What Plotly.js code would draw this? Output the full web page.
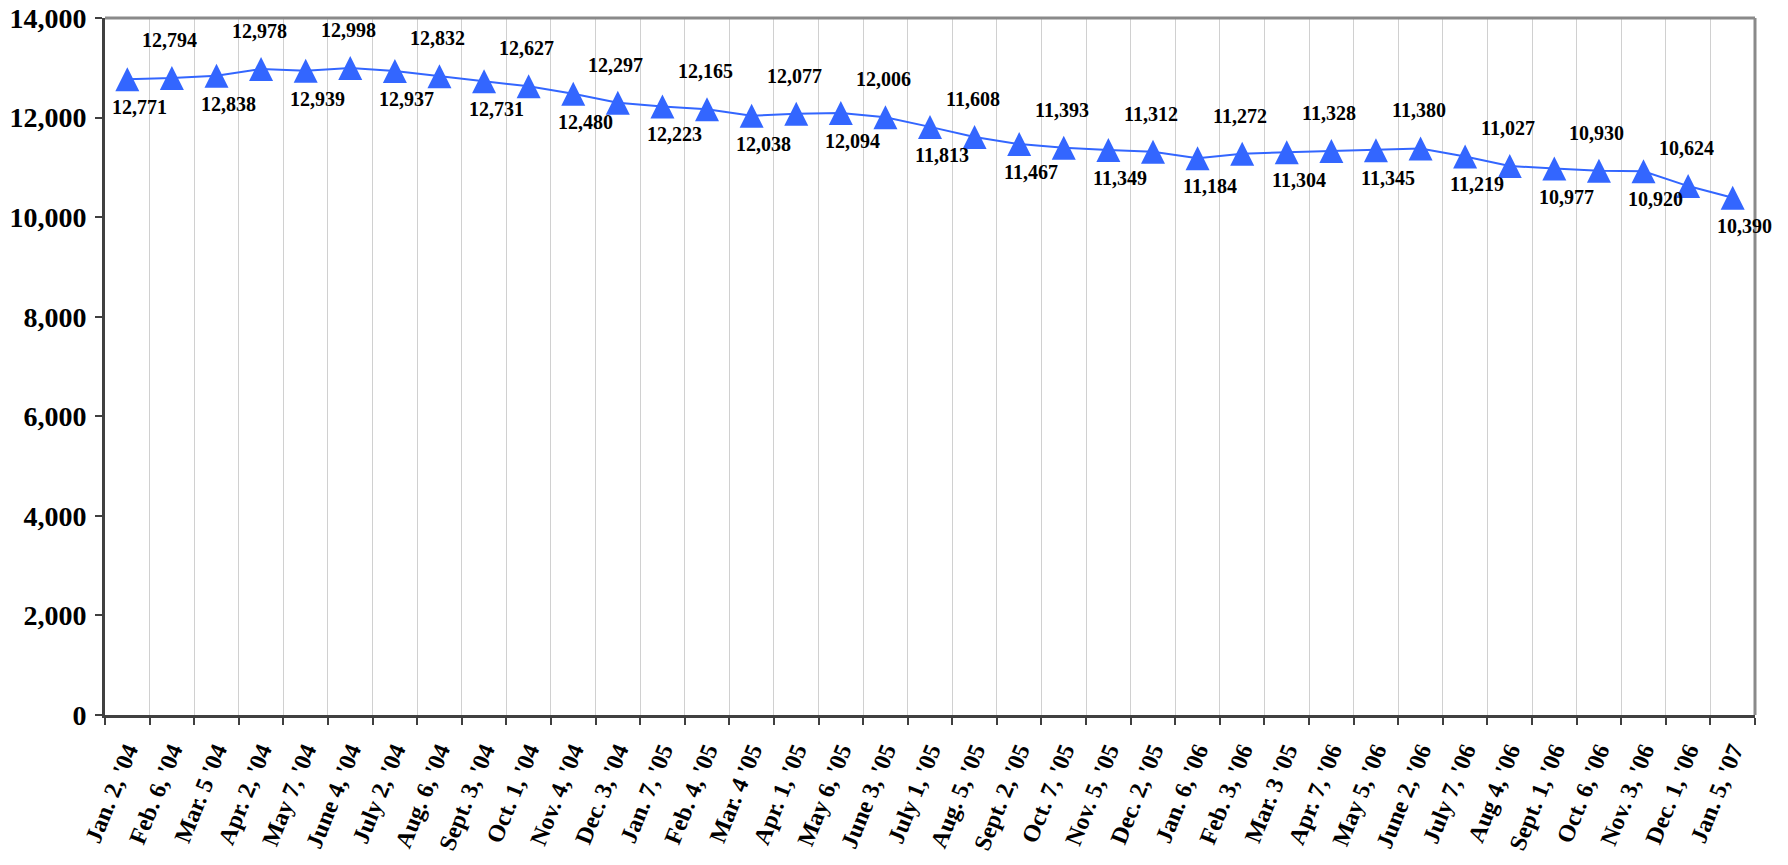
<!DOCTYPE html>
<html>
<head>
<meta charset="utf-8">
<script src="https://cdn.plot.ly/plotly-3.0.1.min.js"></script>
<style>
html,body{margin:0;padding:0;background:#fff;}
#chart{width:1788px;height:865px;}
</style>
</head>
<body>
<div id="chart"></div>
<script>
var categories = [
  "Jan. 2, '04","Feb. 6, '04","Mar. 5 '04","Apr. 2, '04","May 7, '04","June 4, '04",
  "July 2, '04","Aug. 6, '04","Sept. 3, '04","Oct. 1, '04","Nov. 4, '04","Dec. 3, '04",
  "Jan. 7, '05","Feb. 4, '05","Mar. 4 '05","Apr. 1, '05","May 6, '05","June 3, '05",
  "July 1, '05","Aug. 5, '05","Sept. 2, '05","Oct. 7, '05","Nov. 5, '05","Dec. 2, '05",
  "Jan. 6, '06","Feb. 3, '06","Mar. 3 '05","Apr. 7, '06","May 5, '06","June 2, '06",
  "July 7, '06","Aug 4, '06","Sept. 1, '06","Oct. 6, '06","Nov. 3, '06","Dec. 1, '06",
  "Jan. 5, '07"
];
var values = [
  12771, 12794, 12838, 12978, 12939, 12998,
  12937, 12832, 12731, 12627, 12480, 12297,
  12223, 12165, 12038, 12077, 12094, 12006,
  11813, 11608, 11467, 11393, 11349, 11312,
  11184, 11272, 11304, 11328, 11345, 11380,
  11219, 11027, 10977, 10930, 10920, 10624,
  10390
];
var yTickValues = [0, 2000, 4000, 6000, 8000, 10000, 12000, 14000];

var blue = '#3366FF';
var serif = 'Liberation Serif, Times New Roman, serif';
var fmt = function(v){ return v.toLocaleString('en-US'); };

var annotations = values.map(function(v, i){
  var below = (i % 2 === 0);
  return {
    x: categories[i], y: v, xref: 'x', yref: 'y',
    text: fmt(v), showarrow: false,
    xshift: below ? 12 : -2,
    yshift: below ? -28 : 38,
    font: {family: serif, size: 20, color: '#000', weight: 'bold'}
  };
});

var trace = {
  type: 'scatter', mode: 'lines+markers',
  x: categories, y: values,
  line: {color: blue, width: 2},
  marker: {symbol: 'arrow-down', angle: 180, standoff: 12, size: 24, color: blue,
           line: {width: 0}},
  cliponaxis: false,
  hoverinfo: 'x+y'
};

var layout = {
  width: 1788, height: 865,
  margin: {l: 105, r: 33, t: 18, b: 150},
  paper_bgcolor: '#fff', plot_bgcolor: '#fff',
  showlegend: false,
  xaxis: {
    type: 'category',
    tickson: 'boundaries',
    ticks: 'outside', ticklen: 7, tickwidth: 2, tickcolor: '#404040',
    showgrid: true, gridcolor: '#d0d0d0', gridwidth: 1,
    showline: true, linecolor: '#404040', linewidth: 3,
    tickangle: -68,
    ticklabelstandoff: 9,
    tickfont: {family: serif, size: 24, color: '#000', weight: 'bold'},
    range: [-0.5, categories.length - 0.5],
    zeroline: false, fixedrange: true
  },
  yaxis: {
    range: [0, 14000],
    tickvals: yTickValues,
    ticktext: yTickValues.map(fmt),
    ticks: 'outside', ticklen: 7, tickwidth: 2, tickcolor: '#404040',
    showgrid: false, zeroline: false,
    showline: true, linecolor: '#404040', linewidth: 3,
    ticklabelstandoff: 3,
    tickfont: {family: serif, size: 28, color: '#000', weight: 'bold'},
    fixedrange: true
  },
  shapes: [
    {type: 'line', xref: 'paper', yref: 'paper', x0: 0, x1: 1, y0: 1, y1: 1,
     line: {color: '#8a8a8a', width: 3}},
    {type: 'line', xref: 'paper', yref: 'paper', x0: 1, x1: 1, y0: 0, y1: 1,
     line: {color: '#8a8a8a', width: 3}}
  ],
  annotations: annotations
};

Plotly.newPlot('chart', [trace], layout, {displayModeBar: false, staticPlot: true});
</script>
</body>
</html>
